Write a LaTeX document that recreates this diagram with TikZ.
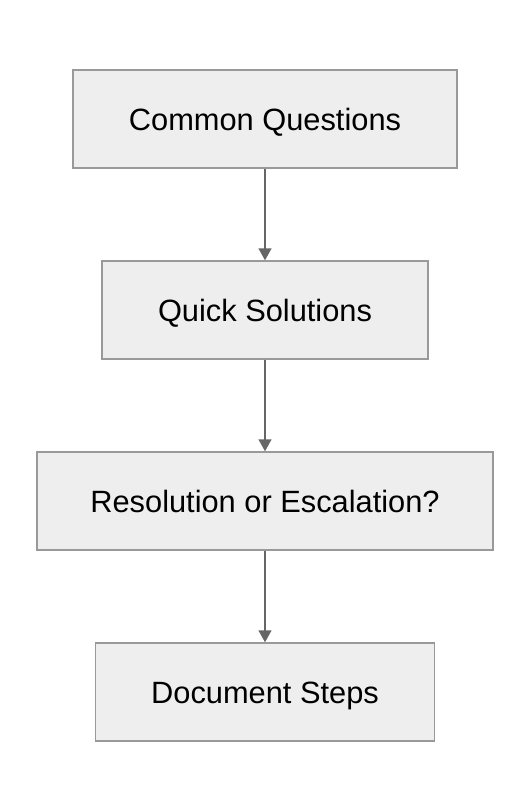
\documentclass[tikz,border=0pt]{standalone}
\usepackage{fontspec}
\setmainfont{Liberation Sans}
\usetikzlibrary{arrows.meta}
\definecolor{boxfill}{HTML}{EEEEEE}
\definecolor{boxline}{HTML}{999999}
\definecolor{arrowc}{HTML}{666666}
\begin{document}
\begin{tikzpicture}[x=1pt,y=-1pt,
  box/.style={draw=boxline,fill=boxfill,line width=1.5pt,inner sep=0pt,text height=22pt,text depth=0pt,font=\fontsize{30.8}{36}\selectfont},
  conn/.style={draw=arrowc,line width=1.5pt,-{Triangle[length=12pt,width=13pt]}}]
\useasboundingbox (0,0) rectangle (530,812);
\node[box,minimum width=384pt,minimum height=98pt] (a) at (265,119) {Common Questions};
\node[box,minimum width=326pt,minimum height=98pt] (b) at (265,310) {Quick Solutions};
\node[box,minimum width=456pt,minimum height=98pt] (c) at (265,501) {Resolution or Escalation?};
\node[box,minimum width=339pt,minimum height=98pt] (d) at (265,692) {Document Steps};
\draw[conn] (a) -- (b);
\draw[conn] (b) -- (c);
\draw[conn] (c) -- (d);
\end{tikzpicture}
\end{document}
